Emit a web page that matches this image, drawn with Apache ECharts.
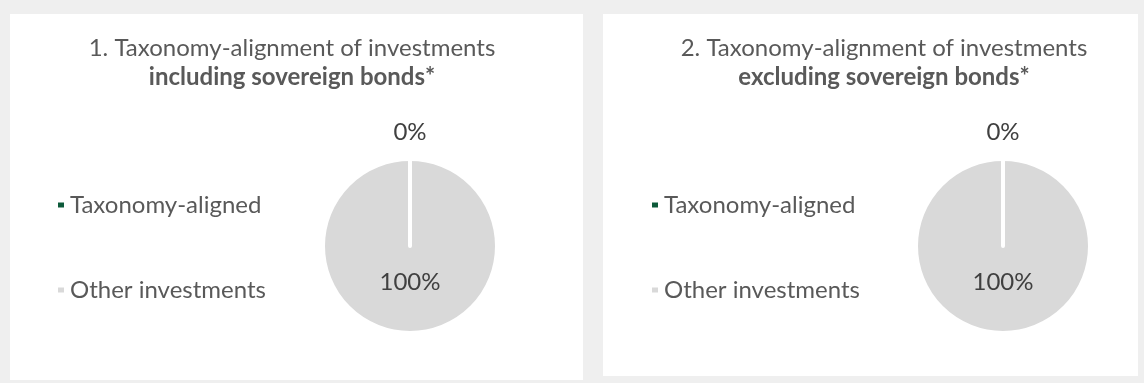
<!DOCTYPE html>
<html>
<head>
<meta charset="utf-8">
<script src="https://cdn.jsdelivr.net/npm/echarts@6/dist/echarts.min.js"></script>
<style>
  html, body { margin: 0; padding: 0; background: #efefef; }
  #chart { width: 1144px; height: 383px; }
</style>
</head>
<body>
<div id="chart"></div>
<script>
// data
const categories = ['Taxonomy-aligned', 'Other investments'];
const includingSovereign = [0, 100];
const excludingSovereign = [0, 100];
const chartTitles = ['1. Taxonomy-alignment of investments', '2. Taxonomy-alignment of investments'];
const chartSubtitles = ['including sovereign bonds*', 'excluding sovereign bonds*'];
const colors = ['#0d5a3a', '#d9d9d9'];

const textColor = '#595959';
const font = 'Lato';

// reversed so the small slice is drawn last (its white edge stays on top)
function makeData(values) {
    return values.map((v, i) => ({ name: categories[i], value: v, itemStyle: { color: colors[i] } })).reverse();
}

function makeTitle(i, cx) {
    return {
        text: chartTitles[i],
        subtext: chartSubtitles[i],
        left: cx,
        textAlign: 'center',
        top: 31,
        itemGap: 5,
        textStyle: { fontFamily: font, fontWeight: 'normal', fontSize: 24, color: textColor },
        subtextStyle: { fontFamily: font, fontWeight: 'bold', fontSize: 24, color: textColor }
    };
}

function makeLegend(left) {
    return {
        orient: 'vertical',
        left: left,
        top: 188,
        itemGap: 61,
        itemWidth: 8,
        itemHeight: 7,
        icon: 'rect',
        selectedMode: false,
        data: categories,
        textStyle: { fontFamily: font, fontSize: 24, color: textColor }
    };
}

function makePie(values, cx) {
    return {
        type: 'pie',
        center: [cx, 246],
        radius: 87,
        startAngle: 90,
        clockwise: false,
        silent: true,
        avoidLabelOverlap: false,
        data: makeData(values),
        itemStyle: { borderColor: '#ffffff', borderWidth: 4 },
        label: {
            show: true,
            position: 'inside',
            formatter: '{d}%',
            fontFamily: font,
            fontSize: 24,
            color: '#404040'
        },
        labelLine: { show: false },
        labelLayout: function (params) {
            if (params.text === '0%') {
                return {
                    x: params.rect.x + params.rect.width / 2,
                    y: params.rect.y - 25,
                    align: 'center',
                    verticalAlign: 'middle'
                };
            }
            return { dy: -10 };
        }
    };
}

const chart = echarts.init(document.getElementById('chart'));
chart.setOption({
    backgroundColor: '#efefef',
    animation: false,
    graphic: [
        { type: 'rect', z: -10, shape: { x: 10, y: 14, width: 573, height: 366 }, style: { fill: '#ffffff' } },
        { type: 'rect', z: -10, shape: { x: 603, y: 14, width: 535, height: 362 }, style: { fill: '#ffffff' } }
    ],
    title: [makeTitle(0, 287), makeTitle(1, 879)],
    legend: [makeLegend(51), makeLegend(645)],
    series: [makePie(includingSovereign, 410), makePie(excludingSovereign, 1003)]
});
window.addEventListener('resize', function () {
    chart.resize();
});
</script>
</body>
</html>
